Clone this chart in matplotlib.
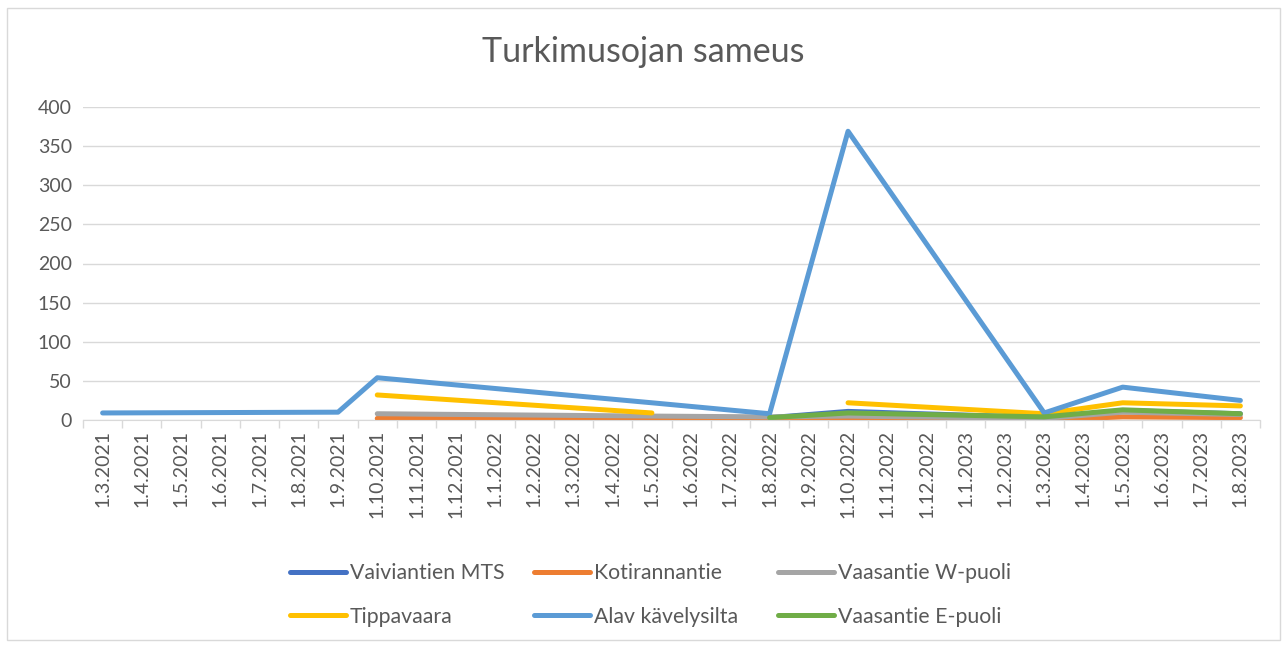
import numpy as np
import matplotlib
matplotlib.use("Agg")
import matplotlib.pyplot as plt
from matplotlib.patches import Rectangle

plt.rcParams["font.family"] = ["Lato", "DejaVu Sans"]

# kuukaudet 1.3.2021 ... 1.8.2023 (päivämääräakseli, kuukausiväli)
months = []
for y in (2021, 2022, 2023):
    for m in range(1, 13):
        if (y == 2021 and m < 3) or (y == 2023 and m > 8):
            continue
        months.append(f"1.{m}.{y}")

# näytteenottopäivät (taulukon rivit); None = tyhjä solu -> katko viivassa
sample_dates = ["1.3.2021", "1.9.2021", "1.10.2021", "1.5.2022", "1.8.2022",
                "1.10.2022", "1.3.2023", "1.5.2023", "1.8.2023"]

vaiviantien   = [None, None, None, None, 3,    11,  3, 12, 8]
kotirannantie = [None, None, 2,    1,    1,    1,   0, 4,  3]
vaasantie_w   = [None, None, 8,    5,    4,    5,   2, 10, 7]
tippavaara    = [None, None, 32,   9,    None, 22,  8, 22, 18]
alav          = [9,    10,   54,   22,   8,    369, 9, 42, 25]
vaasantie_e   = [None, None, None, None, 3,    9,   4, 13, 8]

SERIES = [
    ("Vaiviantien MTS", vaiviantien, "#4472c4"),
    ("Kotirannantie", kotirannantie, "#ed7d31"),
    ("Vaasantie W-puoli", vaasantie_w, "#a5a5a5"),
    ("Tippavaara", tippavaara, "#ffc000"),
    ("Alav kävelysilta", alav, "#5b9bd5"),
    ("Vaasantie E-puoli", vaasantie_e, "#70ad47"),
]

TEXT = "#595959"
GRID = "#d9d9d9"

fig = plt.figure(figsize=(12.87, 6.48), dpi=100)
ax = fig.add_axes([83 / 1287, 1 - 420 / 648, (1260 - 83) / 1287, (420 - 107) / 648])

xpos = [months.index(d) for d in sample_dates]
handles = {}
for name, vals, color in SERIES:
    v = np.array([np.nan if a is None else a for a in vals], dtype=float)
    ln, = ax.plot(xpos, v, color=color, linewidth=3.6,
                  solid_capstyle="round", solid_joinstyle="round", label=name)
    handles[name] = ln

ax.set_xlim(-0.5, len(months) - 0.5)
ax.set_ylim(0, 400)
ax.set_yticks(range(0, 401, 50))
ax.yaxis.grid(True, color=GRID, linewidth=1)
ax.set_axisbelow(True)
ax.tick_params(axis="y", length=0, labelsize=14, colors=TEXT, pad=8)

ax.set_xticks(range(len(months)))
ax.set_xticklabels(months, rotation=90, fontsize=14, color=TEXT)
ax.set_xticks(np.arange(len(months) + 1) - 0.5, minor=True)
ax.tick_params(axis="x", which="major", length=0, pad=7)
ax.tick_params(axis="x", which="minor", length=6, color=GRID, width=1)

for s in ("top", "right", "left"):
    ax.spines[s].set_visible(False)
ax.spines["bottom"].set_color(GRID)

fig.text(0.5, 1 - 52 / 648, "Turkimusojan sameus", ha="center", va="center",
         fontsize=24.5, color=TEXT)

# selite: kolme saraketta, kaksi riviä
columns = [("Vaiviantien MTS", "Tippavaara"),
           ("Kotirannantie", "Alav kävelysilta"),
           ("Vaasantie W-puoli", "Vaasantie E-puoli")]
col_x = [290, 534, 778]
for names, cx in zip(columns, col_x):
    leg = fig.legend([handles[n] for n in names], names, frameon=False,
                     loc="center left", bbox_to_anchor=(cx / 1287, 1 - 595 / 648),
                     fontsize=15.3, handlelength=2.65, handletextpad=0.15,
                     labelspacing=1.1, borderpad=0, borderaxespad=0)
    for t in leg.get_texts():
        t.set_color(TEXT)

fig.add_artist(Rectangle((7 / 1287, 8 / 648), 1273 / 1287, 632 / 648,
                         transform=fig.transFigure, fill=False,
                         edgecolor=GRID, linewidth=1))

fig.savefig("out.png", dpi=100)
